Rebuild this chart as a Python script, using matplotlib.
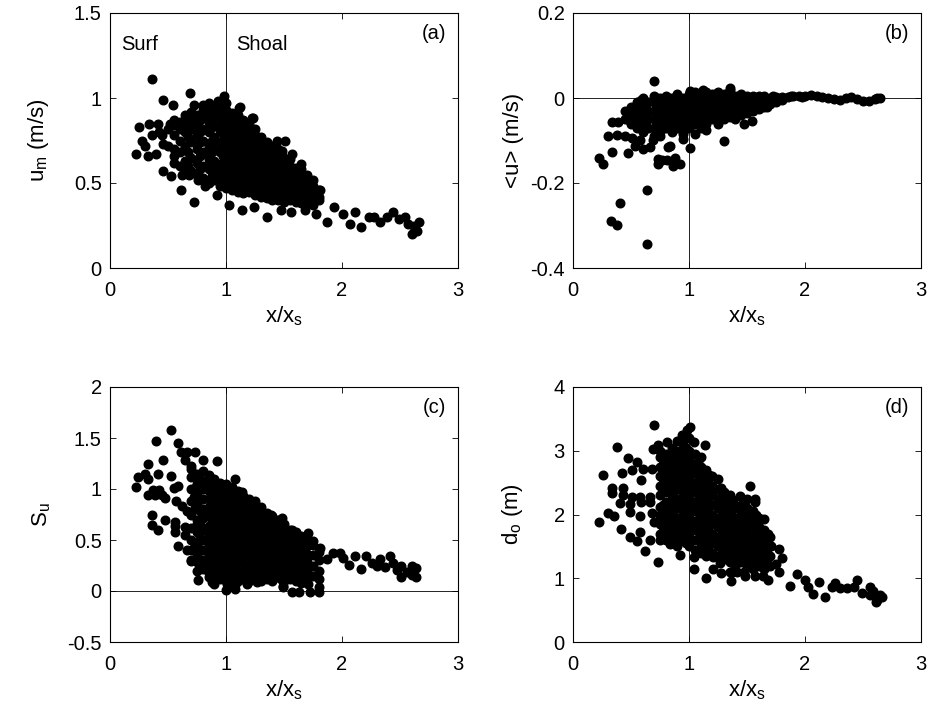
import numpy as np
import matplotlib
matplotlib.use("Agg")
import matplotlib.pyplot as plt

plt.rcParams['font.family'] = ['Liberation Sans', 'DejaVu Sans']
plt.rcParams['axes.unicode_minus'] = False
plt.rcParams['mathtext.fontset'] = 'custom'
plt.rcParams['mathtext.rm'] = 'Liberation Sans'
plt.rcParams['mathtext.it'] = 'Liberation Sans'

# ---- panel (a): u_m ----
a_pts = [(0.36,1.11),(0.69,1.03),(0.46,0.99),(0.54,0.96),(0.25,0.83),(0.34,0.85),(0.41,0.85),
         (0.30,0.72),(0.22,0.67),(0.33,0.66),(0.40,0.67),(0.46,0.73),(0.55,0.66),(0.46,0.57),
         (0.53,0.54),(0.61,0.46),(0.62,0.55),(0.68,0.55),(0.72,0.39),(0.76,0.52),(0.82,0.48),
         (0.92,0.43),(0.98,0.50),(1.03,0.37),(1.14,0.34),(1.24,0.36),(1.35,0.30),(1.47,0.34),
         (1.56,0.33),(1.68,0.34),(1.78,0.32),(1.87,0.27),(1.93,0.36),(2.01,0.32),(2.07,0.26),
         (2.11,0.33),(2.16,0.24),(2.23,0.30),(2.28,0.30),(2.33,0.27),(2.39,0.30),(2.44,0.33),
         (2.49,0.29),(2.54,0.30),(2.57,0.26),(2.60,0.20),(2.63,0.23),(2.66,0.27),(2.62,0.25),
         (2.65,0.22),(1.44,0.75),(1.51,0.75),(1.23,0.88),(1.11,0.94),(0.98,1.01),(0.93,0.98),
         (0.80,0.96),(0.72,0.96),(1.12,0.95),(1.22,0.88),(1.48,0.69),(1.57,0.67),(1.65,0.61),
         (1.68,0.52),(1.81,0.46),(1.80,0.40),(1.75,0.37),(0.42,0.80),(0.45,0.78),(0.50,0.82),
         (0.52,0.85),(0.50,0.72),(0.28,0.75),(0.36,0.78)]
a_cols = [(0.55,[0.62,0.70,0.78,0.84,0.87]),
          (0.60,[0.60,0.68,0.75,0.82,0.86]),
          (0.65,[0.58,0.63,0.72,0.80,0.87,0.90]),
          (0.675,[0.60,0.68,0.77,0.85]),
          (0.70,[0.57,0.65,0.74,0.82,0.88,0.92]),
          (0.75,[0.55,0.62,0.70,0.78,0.84,0.90]),
          (0.775,[0.58,0.66,0.74,0.80,0.87]),
          (0.80,[0.53,0.60,0.68,0.75,0.82,0.88,0.93]),
          (0.85,[0.50,0.58,0.64,0.72,0.80,0.86,0.92,0.97]),
          (0.875,[0.54,0.61,0.68,0.75,0.83,0.89,0.94]),
          (0.90,[0.52,0.57,0.63,0.70,0.77,0.84,0.90,0.95]),
          (0.95,[0.48,0.55,0.61,0.68,0.74,0.81,0.88,0.94]),
          (0.975,[0.51,0.58,0.66,0.72,0.79,0.85,0.91]),
          (1.00,[0.47,0.53,0.58,0.64,0.70,0.76,0.82,0.88,0.93,0.97]),
          (1.025,[0.49,0.55,0.60,0.66,0.73,0.79,0.85,0.90]),
          (1.05,[0.46,0.51,0.57,0.62,0.68,0.74,0.80,0.86,0.91]),
          (1.075,[0.48,0.53,0.59,0.64,0.70,0.76,0.82,0.88]),
          (1.10,[0.45,0.50,0.55,0.61,0.67,0.72,0.78,0.84,0.90]),
          (1.125,[0.47,0.52,0.57,0.63,0.69,0.75,0.80,0.86]),
          (1.15,[0.44,0.49,0.54,0.59,0.65,0.71,0.77,0.82,0.87]),
          (1.175,[0.46,0.51,0.57,0.62,0.68,0.74,0.79,0.84]),
          (1.20,[0.45,0.50,0.55,0.60,0.66,0.71,0.76,0.80,0.85]),
          (1.225,[0.47,0.52,0.58,0.63,0.68,0.74,0.78]),
          (1.25,[0.43,0.48,0.53,0.58,0.63,0.68,0.73,0.78,0.82]),
          (1.275,[0.45,0.50,0.55,0.60,0.65,0.70,0.75]),
          (1.30,[0.42,0.47,0.52,0.57,0.62,0.67,0.72,0.77]),
          (1.325,[0.44,0.49,0.54,0.59,0.64,0.69]),
          (1.35,[0.41,0.46,0.50,0.55,0.60,0.65,0.70,0.74]),
          (1.375,[0.43,0.48,0.52,0.57,0.62,0.67,0.72]),
          (1.40,[0.40,0.45,0.49,0.54,0.58,0.63,0.68,0.72]),
          (1.425,[0.42,0.47,0.51,0.56,0.60,0.65]),
          (1.45,[0.40,0.44,0.48,0.53,0.57,0.62,0.66,0.70]),
          (1.475,[0.41,0.45,0.50,0.55,0.59,0.64]),
          (1.50,[0.39,0.43,0.47,0.51,0.56,0.60,0.65]),
          (1.525,[0.41,0.45,0.49,0.54,0.58,0.62]),
          (1.55,[0.40,0.44,0.48,0.52,0.56,0.60,0.64]),
          (1.575,[0.41,0.46,0.50,0.54,0.58]),
          (1.60,[0.39,0.43,0.47,0.51,0.55,0.59]),
          (1.625,[0.40,0.45,0.49,0.53,0.57]),
          (1.65,[0.38,0.42,0.46,0.50,0.54,0.58]),
          (1.675,[0.40,0.44,0.48,0.52]),
          (1.70,[0.39,0.43,0.47,0.51,0.55]),
          (1.725,[0.41,0.45,0.50]),
          (1.75,[0.40,0.44,0.48,0.52]),
          (1.80,[0.42,0.46])]

# ---- panel (b): <u> ----
b_pts = [(0.70,0.041),(0.635,-0.343),(0.405,-0.246),(0.33,-0.29),(0.38,-0.30),(0.635,-0.216),
         (0.22,-0.14),(0.26,-0.155),(0.34,-0.126),(0.47,-0.13),(0.60,-0.12),(0.73,-0.144),
         (0.81,-0.146),(0.88,-0.14),(0.92,-0.155),(0.865,-0.16),(0.73,-0.155),(0.765,-0.147),
         (0.82,-0.115),(0.84,-0.113),(0.69,-0.099),(0.66,-0.115),(0.535,-0.114),(0.575,-0.099),
         (0.945,-0.097),(1.01,-0.118),(0.30,-0.089),(0.375,-0.087),(0.45,-0.09),(0.505,-0.095),
         (0.34,-0.056),(0.39,-0.056),(0.48,-0.052),(0.52,-0.052),(1.30,-0.10),(0.59,-0.005),
         (1.12,0.019),(1.35,0.019),(1.01,0.017),(0.58,-0.02),(1.47,-0.06),(1.54,-0.055),
         (1.67,-0.02),(1.35,0.023),(0.75,-0.09),(0.95,-0.085),(1.05,-0.085),(1.15,-0.075),
         (1.85,0.003),(1.90,0.005),(1.95,0.004),(2.00,0.005),(2.05,0.006),(2.10,0.004),
         (2.15,0.002),(2.20,0.000),(2.25,-0.003),(2.30,-0.004),(2.35,0.000),(2.40,0.002),
         (2.45,-0.002),(2.50,-0.006),(2.55,-0.008),(2.60,-0.002),(2.65,0.000),(1.88,0.004),
         (1.97,0.002),(2.62,0.001)]
b_cols = [(0.45,[-0.05,-0.03]),
          (0.50,[-0.06,-0.04,-0.02]),
          (0.55,[-0.07,-0.05,-0.03,-0.01]),
          (0.60,[-0.08,-0.06,-0.04,-0.02,0.0]),
          (0.625,[-0.07,-0.05,-0.03,-0.01]),
          (0.65,[-0.07,-0.05,-0.03,-0.01]),
          (0.70,[-0.09,-0.07,-0.05,-0.03,-0.01,0.005]),
          (0.725,[-0.08,-0.06,-0.04,-0.02,0.0]),
          (0.75,[-0.08,-0.06,-0.04,-0.02,0.0]),
          (0.80,[-0.07,-0.05,-0.03,-0.01,0.005]),
          (0.825,[-0.06,-0.04,-0.02,0.0]),
          (0.85,[-0.08,-0.06,-0.04,-0.02,0.0]),
          (0.90,[-0.07,-0.05,-0.03,-0.01,0.01]),
          (0.925,[-0.06,-0.04,-0.02,0.0]),
          (0.95,[-0.08,-0.06,-0.04,-0.02,0.0]),
          (1.00,[-0.07,-0.05,-0.03,-0.01,0.01]),
          (1.025,[-0.06,-0.04,-0.02,0.0,0.01]),
          (1.05,[-0.06,-0.04,-0.02,0.0,0.015]),
          (1.10,[-0.07,-0.05,-0.03,-0.01,0.01]),
          (1.125,[-0.06,-0.04,-0.02,0.0]),
          (1.15,[-0.06,-0.04,-0.02,0.0,0.015]),
          (1.20,[-0.05,-0.03,-0.01,0.01]),
          (1.225,[-0.04,-0.02,0.0,0.01]),
          (1.25,[-0.06,-0.04,-0.02,0.0,0.015]),
          (1.30,[-0.05,-0.03,-0.01,0.01]),
          (1.325,[-0.04,-0.02,0.0]),
          (1.35,[-0.045,-0.025,-0.005,0.01]),
          (1.40,[-0.05,-0.03,-0.01,0.005]),
          (1.425,[-0.035,-0.015,0.005]),
          (1.45,[-0.04,-0.02,0.0,0.01]),
          (1.50,[-0.035,-0.015,0.005]),
          (1.525,[-0.025,-0.005]),
          (1.55,[-0.03,-0.01,0.005]),
          (1.60,[-0.025,-0.01,0.005]),
          (1.625,[-0.015,0.0]),
          (1.65,[-0.02,-0.005,0.005]),
          (1.70,[-0.015,0.0]),
          (1.725,[-0.008,0.004]),
          (1.75,[-0.01,0.003]),
          (1.80,[-0.005,0.003])]

# ---- panel (c): S_u ----
c_pts = [(0.526,1.58),(0.40,1.47),(0.59,1.45),(0.33,1.25),(0.46,1.28),(0.41,1.15),(0.24,1.12),
         (0.30,1.15),(0.33,1.10),(0.22,1.02),(0.53,1.13),(0.61,1.36),(0.66,1.36),(0.73,1.36),
         (0.65,1.28),(0.70,1.23),(0.80,1.28),(0.92,1.27),(1.08,1.10),(0.55,1.01),(0.59,1.03),
         (0.33,0.94),(0.39,0.94),(0.45,0.94),(0.47,0.91),(0.37,0.99),(0.42,0.99),(0.57,0.88),
         (0.62,0.83),(0.66,0.78),(0.365,0.75),(0.36,0.65),(0.41,0.60),(0.47,0.70),(0.56,0.68),
         (0.56,0.64),(0.56,0.58),(0.65,0.63),(0.65,0.55),(0.59,0.44),(0.66,0.40),(0.72,0.42),
         (0.70,0.29),(0.76,0.11),(0.85,0.14),(0.88,0.09),(0.90,0.07),(1.01,0.07),(1.08,0.02),
         (1.18,0.07),(1.27,0.09),(1.49,0.04),(0.72,0.92),(0.73,0.81),(0.73,1.01),(0.75,0.66),
         (0.79,0.61),(0.85,0.53),(0.86,0.45),(0.93,0.43),(0.96,0.35),(0.89,0.26),(0.95,0.28),
         (1.02,0.30),(1.05,0.19),(1.11,0.14),(1.135,0.97),(1.25,0.88),(1.39,0.745),(1.48,0.714),
         (1.57,0.60),(1.71,0.57),(1.75,0.49),(1.81,0.42),(1.87,0.31),(1.925,0.37),(1.98,0.37),
         (2.01,0.32),(2.06,0.255),(2.11,0.34),(2.16,0.22),(2.21,0.34),(2.26,0.27),(2.30,0.245),
         (2.33,0.31),(2.37,0.24),(2.41,0.34),(2.44,0.27),(2.47,0.21),(2.51,0.245),(2.51,0.14),
         (2.56,0.19),(2.60,0.245),(2.60,0.16),(2.64,0.23),(2.64,0.14),(1.57,-0.01),(1.63,-0.01),
         (1.72,-0.01),(1.80,-0.01),(1.80,0.04),(1.80,0.12),(1.49,0.05),(1.65,0.08),(1.71,0.07),
         (1.00,0.01),(1.08,0.06)]
c_cols = [(0.70,[0.30,0.40,0.50,0.62,0.75,0.88,1.00,1.12,1.20]),
          (0.75,[0.20,0.28,0.36,0.45,0.58,0.70,0.85,0.95,1.05,1.15]),
          (0.775,[0.25,0.40,0.52,0.65,0.78,0.90,1.00,1.10]),
          (0.80,[0.22,0.30,0.40,0.50,0.60,0.72,0.80,0.90,1.00,1.08,1.18]),
          (0.85,[0.18,0.26,0.35,0.46,0.55,0.64,0.74,0.82,0.90,0.98,1.06,1.14]),
          (0.875,[0.22,0.30,0.42,0.50,0.60,0.70,0.78,0.86,0.94,1.02,1.10]),
          (0.90,[0.15,0.24,0.32,0.40,0.50,0.58,0.68,0.76,0.86,0.94,1.02,1.10]),
          (0.95,[0.12,0.20,0.30,0.38,0.46,0.56,0.64,0.72,0.82,0.90,0.98,1.06]),
          (0.975,[0.15,0.25,0.34,0.42,0.50,0.60,0.68,0.78,0.86,0.94,1.02]),
          (1.00,[0.10,0.18,0.27,0.35,0.44,0.52,0.60,0.68,0.76,0.84,0.92,1.00,1.05]),
          (1.05,[0.08,0.16,0.24,0.32,0.40,0.48,0.56,0.64,0.72,0.80,0.88,0.96,1.02]),
          (1.075,[0.12,0.20,0.30,0.38,0.46,0.54,0.62,0.70,0.78,0.86,0.94]),
          (1.10,[0.10,0.20,0.28,0.36,0.44,0.52,0.60,0.68,0.76,0.84,0.92,0.98]),
          (1.15,[0.12,0.20,0.28,0.36,0.45,0.53,0.61,0.70,0.78,0.86,0.93]),
          (1.175,[0.15,0.24,0.32,0.40,0.48,0.57,0.65,0.74,0.82,0.88]),
          (1.20,[0.10,0.18,0.26,0.34,0.42,0.50,0.58,0.66,0.74,0.82,0.90]),
          (1.25,[0.14,0.22,0.30,0.38,0.46,0.54,0.62,0.70,0.78,0.85]),
          (1.275,[0.12,0.20,0.28,0.36,0.44,0.52,0.60,0.68,0.76]),
          (1.30,[0.10,0.18,0.26,0.34,0.42,0.50,0.58,0.66,0.74,0.82]),
          (1.35,[0.12,0.20,0.28,0.36,0.44,0.52,0.60,0.68,0.76]),
          (1.375,[0.15,0.24,0.32,0.40,0.48,0.56,0.64,0.72]),
          (1.40,[0.10,0.18,0.26,0.34,0.42,0.50,0.58,0.66,0.74]),
          (1.45,[0.14,0.22,0.30,0.38,0.46,0.54,0.62,0.70]),
          (1.475,[0.12,0.20,0.28,0.36,0.44,0.52,0.60,0.66]),
          (1.50,[0.10,0.18,0.26,0.34,0.42,0.50,0.58,0.66]),
          (1.55,[0.12,0.20,0.28,0.36,0.44,0.52,0.60]),
          (1.575,[0.15,0.24,0.32,0.40,0.48,0.56]),
          (1.60,[0.10,0.18,0.26,0.34,0.42,0.50,0.58]),
          (1.65,[0.14,0.22,0.30,0.38,0.46,0.54]),
          (1.675,[0.16,0.26,0.34,0.42,0.50]),
          (1.70,[0.12,0.20,0.28,0.36,0.44,0.52]),
          (1.75,[0.15,0.25,0.35,0.45]),
          (1.80,[0.20,0.30,0.38])]

# ---- panel (d): d_o ----
d_pts = [(0.70,3.41),(1.01,3.38),(0.98,3.33),(0.94,3.25),(1.04,3.13),(1.14,3.09),(0.38,3.06),
         (0.69,3.02),(0.735,3.09),(0.81,3.13),(0.47,2.88),(0.55,2.83),(0.256,2.62),(0.42,2.65),
         (0.505,2.70),(0.605,2.71),(0.68,2.71),(0.59,2.54),(0.34,2.41),(0.43,2.41),(0.34,2.33),
         (0.43,2.31),(0.51,2.28),(0.58,2.28),(0.66,2.28),(0.405,2.18),(0.49,2.17),(0.59,2.20),
         (0.66,2.20),(0.30,2.02),(0.35,1.97),(0.227,1.89),(0.41,1.77),(0.49,2.04),(0.58,1.97),
         (0.49,1.65),(0.55,1.59),(0.58,1.73),(0.68,2.02),(0.70,1.89),(0.62,1.42),(0.73,1.26),
         (0.66,1.60),(0.75,1.60),(0.84,1.53),(0.75,2.12),(0.82,2.10),(0.75,1.91),(0.92,1.36),
         (1.04,1.33),(1.04,1.14),(1.15,1.00),(1.36,0.95),(1.35,1.10),(1.41,1.10),(1.48,1.04),
         (1.57,1.04),(1.64,1.04),(1.53,2.44),(1.44,2.29),(1.50,2.25),(1.57,2.24),(1.21,1.33),
         (1.27,1.24),(1.21,1.15),(1.28,1.08),(1.87,0.88),(1.93,1.07),(2.00,0.97),(2.03,0.86),
         (2.07,0.75),(2.12,0.94),(2.17,0.70),(2.23,0.86),(2.26,0.92),(2.30,0.84),(2.36,0.84),
         (2.42,0.86),(2.45,0.97),(2.49,0.77),(2.56,0.74),(2.56,0.87),(2.59,0.80),(2.62,0.66),
         (2.65,0.74),(2.66,0.70),(2.61,0.62),(1.78,1.10),(1.75,1.23),(1.80,1.31),(1.78,1.46),
         (1.71,1.51),(1.68,1.70),(1.65,1.93),(1.57,2.20),(1.37,1.10),(1.47,1.10),(1.68,0.98)]
d_cols = [(0.75,[1.70,1.85,2.00,2.30,2.45,2.60,2.75,2.90,3.00]),
          (0.775,[1.65,1.80,1.95,2.15,2.40,2.55,2.70,2.85,2.95]),
          (0.80,[1.60,1.75,1.90,2.05,2.20,2.35,2.50,2.65,2.80,2.95]),
          (0.85,[1.55,1.70,1.85,2.00,2.15,2.30,2.45,2.60,2.75,2.90,3.05]),
          (0.875,[1.60,1.78,1.92,2.08,2.22,2.38,2.52,2.68,2.82,2.98]),
          (0.90,[1.50,1.65,1.80,1.95,2.10,2.25,2.40,2.55,2.70,2.85,3.00,3.15]),
          (0.95,[1.60,1.75,1.90,2.05,2.20,2.35,2.50,2.65,2.80,2.95,3.10]),
          (0.975,[1.55,1.70,1.85,2.00,2.15,2.30,2.45,2.60,2.75,2.90,3.05]),
          (1.00,[1.50,1.65,1.80,1.95,2.10,2.25,2.40,2.55,2.70,2.85,3.00,3.20]),
          (1.05,[1.45,1.60,1.75,1.90,2.05,2.20,2.35,2.50,2.65,2.80,2.95]),
          (1.075,[1.45,1.62,1.78,1.92,2.08,2.22,2.38,2.52,2.68,2.82]),
          (1.10,[1.40,1.55,1.70,1.85,2.00,2.15,2.30,2.45,2.60,2.75,2.90]),
          (1.15,[1.35,1.50,1.65,1.80,1.95,2.10,2.25,2.40,2.55,2.70]),
          (1.175,[1.42,1.58,1.72,1.88,2.02,2.18,2.32,2.48,2.62]),
          (1.20,[1.40,1.55,1.70,1.85,2.00,2.15,2.30,2.45,2.60]),
          (1.25,[1.35,1.50,1.65,1.80,1.95,2.10,2.25,2.40,2.55]),
          (1.275,[1.38,1.52,1.68,1.82,1.98,2.12,2.28,2.42]),
          (1.30,[1.30,1.45,1.60,1.75,1.90,2.05,2.20,2.35]),
          (1.35,[1.25,1.40,1.55,1.70,1.85,2.00,2.15,2.30]),
          (1.375,[1.32,1.48,1.62,1.78,1.92,2.08,2.22]),
          (1.40,[1.20,1.35,1.50,1.65,1.80,1.95,2.10]),
          (1.45,[1.25,1.40,1.55,1.70,1.85,2.00,2.15]),
          (1.475,[1.30,1.45,1.60,1.75,1.90,2.05]),
          (1.50,[1.20,1.35,1.50,1.65,1.80,1.95,2.10]),
          (1.55,[1.15,1.30,1.45,1.60,1.75,1.90,2.05]),
          (1.575,[1.25,1.40,1.55,1.70,1.85,2.00]),
          (1.60,[1.20,1.35,1.50,1.65,1.80,1.95]),
          (1.65,[1.15,1.30,1.45,1.60,1.75]),
          (1.675,[1.25,1.40,1.55,1.70]),
          (1.70,[1.20,1.35,1.50,1.65])]


def xy(pts, cols):
    x = [p[0] for p in pts] + [c[0] for c in cols for _ in c[1]]
    y = [p[1] for p in pts] + [v for c in cols for v in c[1]]
    return np.array(x), np.array(y)


fig = plt.figure(figsize=(9.32, 7.17), dpi=100)
W, H = 932, 717
boxes = {'a': (110, 13), 'b': (573, 13), 'c': (110, 387), 'd': (573, 387)}
aw, ah = 348, 255

# key, points, columns, ylim, yticks, yticklabels, ylabel, zero line, ylabel x (axes frac)
panels = [
    ('a', a_pts, a_cols, (0, 1.5), [0, 0.5, 1, 1.5], ['0', '0.5', '1', '1.5'],
     r'u$_\mathregular{m}$ (m/s)', False, -0.205),
    ('b', b_pts, b_cols, (-0.4, 0.2), [-0.4, -0.2, 0, 0.2], ['-0.4', '-0.2', '0', '0.2'],
     '<u> (m/s)', True, -0.17),
    ('c', c_pts, c_cols, (-0.5, 2), [-0.5, 0, 0.5, 1, 1.5, 2], ['-0.5', '0', '0.5', '1', '1.5', '2'],
     r'S$_\mathregular{u}$', True, -0.195),
    ('d', d_pts, d_cols, (0, 4), [0, 1, 2, 3, 4], ['0', '1', '2', '3', '4'],
     r'd$_\mathregular{o}$ (m)', False, -0.175),
]

for key, pts, cols, ylim, yt, ytl, ylab, zero, lx in panels:
    l, t = boxes[key]
    ax = fig.add_axes([l / W, 1 - (t + ah) / H, aw / W, ah / H])
    x, y = xy(pts, cols)
    ax.axvline(1, color='black', lw=0.6, zorder=1)
    if zero:
        ax.axhline(0, color='black', lw=0.6, zorder=1)
    ax.plot(x, y, 'o', color='black', ms=6.2, mec='black', zorder=3)
    ax.set_xlim(0, 3)
    ax.set_ylim(*ylim)
    ax.set_xticks([0, 1, 2, 3])
    ax.set_xticklabels(['0', '1', '2', '3'])
    ax.set_yticks(yt)
    ax.set_yticklabels(ytl)
    ax.tick_params(direction='in', length=4, width=0.6, top=True, right=True,
                   labelsize=14.5, pad=6)
    ax.tick_params(axis='x', pad=9)
    for s in ax.spines.values():
        s.set_linewidth(0.8)
    ax.set_xlabel(r'x/x$_\mathregular{s}$', fontsize=16, va='center')
    ax.xaxis.set_label_coords(0.5, -0.19)
    ax.set_ylabel(ylab, fontsize=16, va='center')
    ax.yaxis.set_label_coords(lx, 0.5)
    ax.text(0.965, 0.955, '(%s)' % key, transform=ax.transAxes, ha='right', va='top',
            fontsize=14.5)
    if key == 'a':
        ax.text(0.1, 1.37, 'Surf', fontsize=14.5, va='top')
        ax.text(1.09, 1.37, 'Shoal', fontsize=14.5, va='top')

fig.savefig('out.png', dpi=100)
